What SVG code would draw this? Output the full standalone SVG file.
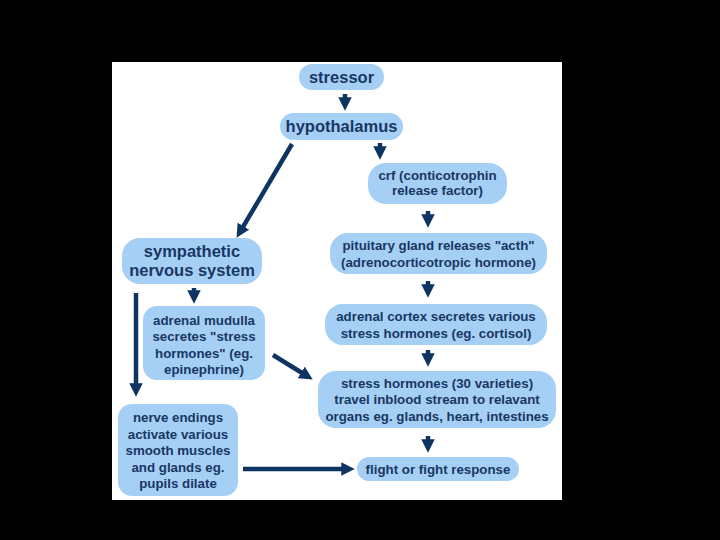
<svg xmlns="http://www.w3.org/2000/svg" width="720" height="540" viewBox="0 0 720 540">
<defs>
<style>
.box{fill:#a6cff5;}
.t{font-family:"Liberation Sans",Arial,sans-serif;font-weight:bold;font-size:13.3px;fill:#183764;text-anchor:middle;}
.b{font-size:16.5px;}
.a{stroke:#0e3462;stroke-width:4.5;fill:none;marker-end:url(#ah);}
</style>
<marker id="ah" viewBox="0 0 10 10" refX="5" refY="5" markerWidth="3" markerHeight="3" orient="auto" markerUnits="strokeWidth">
<path d="M0,0 L10,5 L0,10 Z" fill="#0e3462"/>
</marker>
</defs>
<rect x="0" y="0" width="720" height="540" fill="#000"/>
<rect x="112" y="62" width="450" height="438" fill="#fff"/>
<g id="connectors">
<line class="a" x1="345" y1="94" x2="345" y2="104"/>
<line class="a" x1="380" y1="143" x2="380" y2="153"/>
<line class="a" x1="292" y1="144" x2="240" y2="232"/>
<line class="a" x1="428" y1="211" x2="428" y2="221"/>
<line class="a" x1="428" y1="281" x2="428" y2="291"/>
<line class="a" x1="428" y1="350" x2="428" y2="360"/>
<line class="a" x1="428" y1="436" x2="428" y2="446"/>
<line class="a" x1="194" y1="288" x2="194" y2="297"/>
<line class="a" x1="136" y1="293" x2="136" y2="390"/>
<line class="a" x1="273" y1="355" x2="307" y2="376"/>
<line class="a" x1="243" y1="469" x2="348" y2="469"/>
</g>
<g id="stressor"><rect class="box" x="299" y="64" width="85" height="26" rx="13"/><text class="t b" x="341.5" y="83">stressor</text></g>
<g id="hypothalamus"><rect class="box" x="280" y="113" width="123" height="27" rx="13.5"/><text class="t b" x="341.5" y="132">hypothalamus</text></g>
<g id="crf"><rect class="box" x="368" y="163" width="139" height="41" rx="18"/><text class="t" x="437.5" y="180">crf (conticotrophin</text><text class="t" x="437.5" y="195">release factor)</text></g>
<g id="sympathetic"><rect class="box" x="122" y="238" width="140" height="46" rx="18"/><text class="t b" x="192" y="257">sympathetic</text><text class="t b" x="192" y="276">nervous system</text></g>
<g id="pituitary"><rect class="box" x="330" y="233" width="217" height="41" rx="18"/><text class="t" x="438.5" y="250">pituitary gland releases "acth"</text><text class="t" x="438.5" y="267">(adrenocorticotropic hormone)</text></g>
<g id="cortex"><rect class="box" x="325" y="304" width="222" height="41" rx="18"/><text class="t" x="436" y="321">adrenal cortex secretes various</text><text class="t" x="436" y="338">stress hormones (eg. cortisol)</text></g>
<g id="mudulla"><rect class="box" x="143" y="306" width="122" height="74" rx="14"/><text class="t" x="204" y="325">adrenal mudulla</text><text class="t" x="204" y="341">secretes "stress</text><text class="t" x="204" y="358">hormones" (eg.</text><text class="t" x="204" y="374">epinephrine)</text></g>
<g id="hormones"><rect class="box" x="318" y="371" width="238" height="57" rx="18"/><text class="t" x="437" y="388">stress hormones (30 varieties)</text><text class="t" x="437" y="404">travel inblood stream to relavant</text><text class="t" x="437" y="421">organs eg. glands, heart, intestines</text></g>
<g id="nerve"><rect class="box" x="118" y="404" width="120" height="92" rx="14"/><text class="t" x="178" y="422">nerve endings</text><text class="t" x="178" y="439">activate various</text><text class="t" x="178" y="455">smooth muscles</text><text class="t" x="178" y="472">and glands eg.</text><text class="t" x="178" y="488">pupils dilate</text></g>
<g id="flight"><rect class="box" x="357" y="457" width="162" height="24" rx="12"/><text class="t" x="438" y="474">flight or fight response</text></g>
</svg>
